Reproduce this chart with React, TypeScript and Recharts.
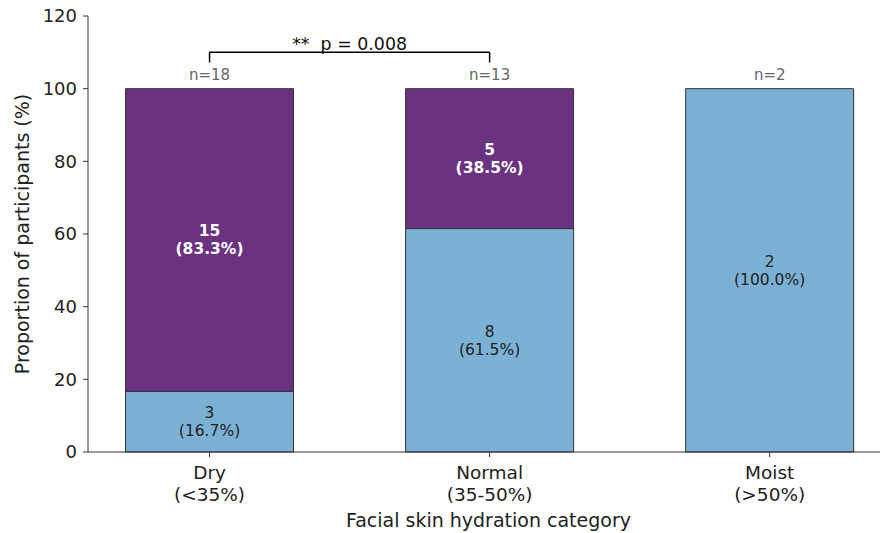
import React from 'react';
import { BarChart, Bar, XAxis, YAxis, LabelList, ReferenceLine, ReferenceDot } from 'recharts';

const categories = ['Dry', 'Normal', 'Moist'];
const ranges = ['(<35%)', '(35-50%)', '(>50%)'];
const blueCounts = [3, 8, 2];
const purpleCounts = [15, 5, 0];
const bluePct = [16.7, 61.5, 100.0];
const purplePct = [83.3, 38.5, 0];
const totals = [18, 13, 2];
const yTicks = [0, 20, 40, 60, 80, 100, 120];
const pText = '**\u00A0\u00A0p = 0.008';

const FONT = '"DejaVu Sans", sans-serif';
const BLUE = '#7bb1d5';
const PURPLE = '#6c3282';

const data = categories.map((c, i) => ({ x: i, name: c, blue: bluePct[i], purple: purplePct[i] }));

const segLabel = (counts: number[], pcts: number[], fill: string, weight: string) => (props: any) => {
  const vb = props.viewBox || {};
  const x = props.x ?? vb.x;
  const y = props.y ?? vb.y;
  const width = props.width ?? vb.width;
  const height = props.height ?? vb.height;
  const i = props.index;
  if (!counts[i]) return null;
  const cx = x + width / 2;
  const cy = y + height / 2;
  return (
    <text textAnchor="middle" fontSize={15.5} fill={fill} fontWeight={weight} fontFamily={FONT}>
      <tspan x={cx} y={cy - 3.5}>{counts[i]}</tspan>
      <tspan x={cx} y={cy + 14.5}>({pcts[i].toFixed(1)}%)</tspan>
    </text>
  );
};

const XTick = (props: any) => {
  const { x, payload } = props;
  const i = Math.round(payload.value);
  return (
    <text textAnchor="middle" fontSize={18.5} fill="#222" fontFamily={FONT}>
      <tspan x={x} y={479}>{categories[i]}</tspan>
      <tspan x={x} y={501}>{ranges[i]}</tspan>
    </text>
  );
};

export default function App() {
  return (
    <div style={{ position: 'absolute', left: 0, top: 0, width: 880, height: 533, overflow: 'hidden', background: '#fff' }}>
      <BarChart width={890} height={533} data={data} margin={{ top: 16, right: 1, left: 0, bottom: 0 }}>
        <XAxis
          dataKey="x"
          type="number"
          domain={[-0.434, 2.426]}
          ticks={[0, 1, 2]}
          allowDataOverflow
          height={81}
          stroke="#333"
          tickSize={5}
          tick={<XTick />}
          label={{ value: 'Facial skin hydration category', position: 'insideBottom', offset: 6, fontSize: 19, fill: '#222', fontFamily: FONT }}
        />
        <YAxis
          type="number"
          domain={[0, 120]}
          ticks={yTicks}
          width={88}
          stroke="#333"
          tickSize={5}
          tickMargin={6}
          tick={{ fontSize: 18, fill: '#222', fontFamily: FONT }}
          label={{
            content: (p: any) => {
              const vb = p.viewBox || {};
              const cy = (vb.y ?? 16) + (vb.height ?? 436) / 2;
              return (
                <text x={22} y={cy} transform={`rotate(-90 22 ${cy})`} textAnchor="middle" dominantBaseline="central" fontSize={19} fill="#222" fontFamily={FONT}>
                  Proportion of participants (%)
                </text>
              );
            },
          }}
        />
        <Bar dataKey="blue" stackId="s" fill={BLUE} stroke="#333" strokeWidth={1} barSize={168} isAnimationActive={false}>
          <LabelList content={segLabel(blueCounts, bluePct, '#222', 'normal')} />
        </Bar>
        <Bar dataKey="purple" stackId="s" fill={PURPLE} stroke="#333" strokeWidth={1} barSize={168} isAnimationActive={false}>
          <LabelList content={segLabel(purpleCounts, purplePct, '#fff', 'bold')} />
        </Bar>
        {totals.map((n, i) => (
          <ReferenceDot
            key={i}
            x={i}
            y={100}
            r={1}
            fill="none"
            stroke="none"
            label={{
              content: (p: any) => {
                const vb = p.viewBox || {};
                const cx = (vb.x ?? 0) + (vb.width ?? 0) / 2;
                const cy = (vb.y ?? 0) + (vb.height ?? 0) / 2;
                return (
                  <text x={cx} y={cy - 9} textAnchor="middle" fontSize={15} fill="#666" fontFamily={FONT}>
                    n={n}
                  </text>
                );
              },
            }}
          />
        ))}
        <ReferenceLine segment={[{ x: 0, y: 110 }, { x: 1, y: 110 }]} stroke="#000" strokeWidth={1.5} />
        <ReferenceLine segment={[{ x: 0, y: 107.2 }, { x: 0, y: 110 }]} stroke="#000" strokeWidth={1.5} />
        <ReferenceLine segment={[{ x: 1, y: 107.2 }, { x: 1, y: 110 }]} stroke="#000" strokeWidth={1.5} />
        <ReferenceDot
          x={0.5}
          y={110}
          r={1}
          fill="none"
          stroke="none"
          label={{
            content: (p: any) => {
              const vb = p.viewBox || {};
              const cx = (vb.x ?? 0) + (vb.width ?? 0) / 2;
              const cy = (vb.y ?? 0) + (vb.height ?? 0) / 2;
              return (
                <text x={cx} y={cy - 2.7} textAnchor="middle" fontSize={17.4} fill="#111" fontFamily={FONT}>
                  {pText}
                </text>
              );
            },
          }}
        />
      </BarChart>
    </div>
  );
}
